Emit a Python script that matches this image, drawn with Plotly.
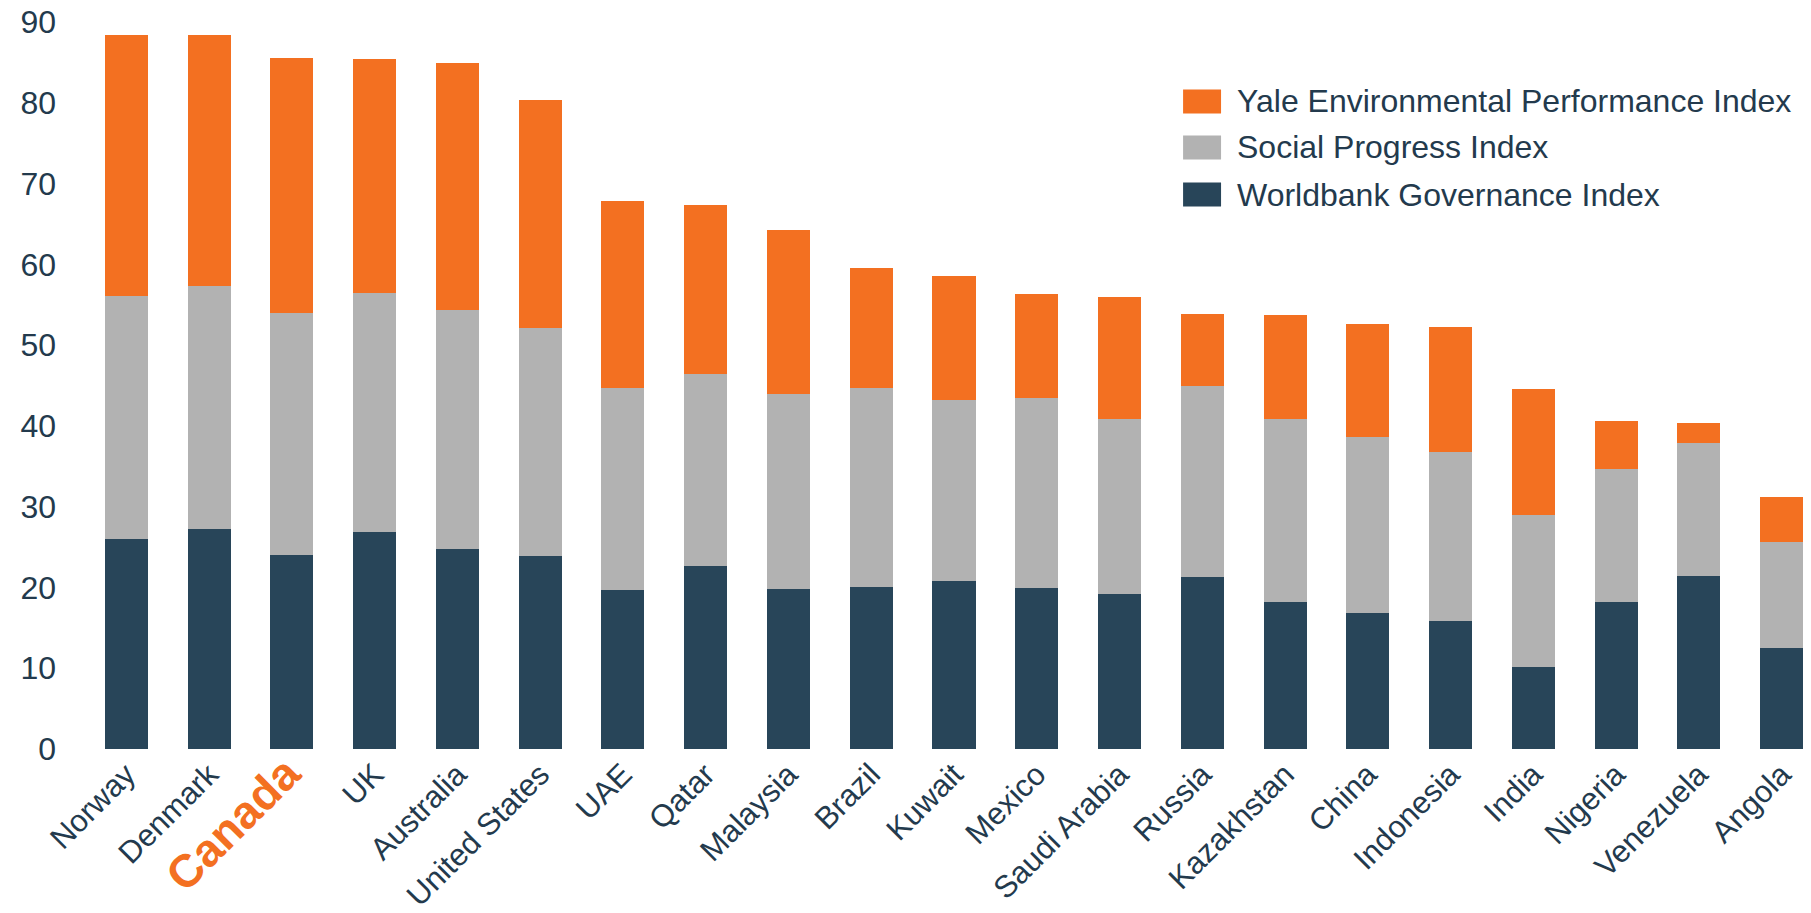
import plotly.graph_objects as go

# Country composite scores, stacked from three indices
countries = ["Norway", "Denmark", "Canada", "UK", "Australia", "United States", "UAE",
             "Qatar", "Malaysia", "Brazil", "Kuwait", "Mexico", "Saudi Arabia", "Russia",
             "Kazakhstan", "China", "Indonesia", "India", "Nigeria", "Venezuela", "Angola"]

governance = [26.0, 27.2, 24.0, 26.9, 24.8, 23.9, 19.7, 22.6, 19.8, 20.1, 20.8,
              19.9, 19.2, 21.3, 18.2, 16.8, 15.8, 10.1, 18.2, 21.4, 12.5]
social = [30.1, 30.1, 30.0, 29.5, 29.6, 28.2, 25.0, 23.8, 24.2, 24.6, 22.4,
          23.5, 21.6, 23.6, 22.7, 21.8, 21.0, 18.9, 16.5, 16.5, 13.1]
environment = [32.3, 31.1, 31.6, 29.0, 30.5, 28.2, 23.1, 20.9, 20.2, 14.9, 15.4,
               12.9, 15.1, 9.0, 12.8, 14.0, 15.4, 15.6, 5.9, 2.4, 5.6]

highlight = "Canada"
y_ticks = [0, 10, 20, 30, 40, 50, 60, 70, 80, 90]

ORANGE = "#F37021"
GREY = "#B2B2B2"
NAVY = "#284559"
TEXT = "#233A4D"
FONT = "Liberation Sans, Arial, sans-serif"

series = [
    ("Worldbank Governance Index", governance, NAVY),
    ("Social Progress Index", social, GREY),
    ("Yale Environmental Performance Index", environment, ORANGE),
]

fig = go.Figure()
for name, vals, color in series:
    fig.add_trace(go.Bar(x=countries, y=vals, name=name, marker_color=color,
                         marker_line_width=0, showlegend=False))

tick_text = [
    f"<b><span style='color:{ORANGE};font-size:46px'>{c}</span></b>" if c == highlight else c
    for c in countries
]

# Legend drawn as keys + labels, top entry = top of the stack
legend_rows = list(reversed(series))
row_y = [0.8907, 0.8274, 0.7627]
shapes, annotations = [], []
for (name, _, color), yc in zip(legend_rows, row_y):
    shapes.append(dict(type="rect", xref="paper", yref="paper",
                       x0=0.6362, x1=0.6582, y0=yc - 0.0165, y1=yc + 0.0165,
                       fillcolor=color, line_width=0))
    annotations.append(dict(xref="paper", yref="paper", x=0.6662, y=yc,
                            xanchor="left", yanchor="middle", showarrow=False,
                            text=name, font=dict(family=FONT, size=32, color=TEXT)))

fig.update_layout(
    barmode="stack",
    bargap=0.48,
    width=1811, height=913,
    margin=dict(l=85, r=0, t=22, b=164),
    paper_bgcolor="white", plot_bgcolor="white",
    font=dict(family=FONT, size=31, color=TEXT),
    shapes=shapes,
    annotations=annotations,
    xaxis=dict(
        tickmode="array", tickvals=countries, ticktext=tick_text,
        tickangle=-45, showgrid=False, showline=False, zeroline=False,
        range=[-0.5, 20.355], ticks="",
        tickfont=dict(family=FONT, size=31, color=TEXT),
    ),
    yaxis=dict(
        range=[0, 90], tickvals=y_ticks, showgrid=False, showline=False,
        zeroline=False, ticks="", ticklabelstandoff=28,
        tickfont=dict(family=FONT, size=32, color=TEXT),
    ),
)

fig.write_html("out.html")
